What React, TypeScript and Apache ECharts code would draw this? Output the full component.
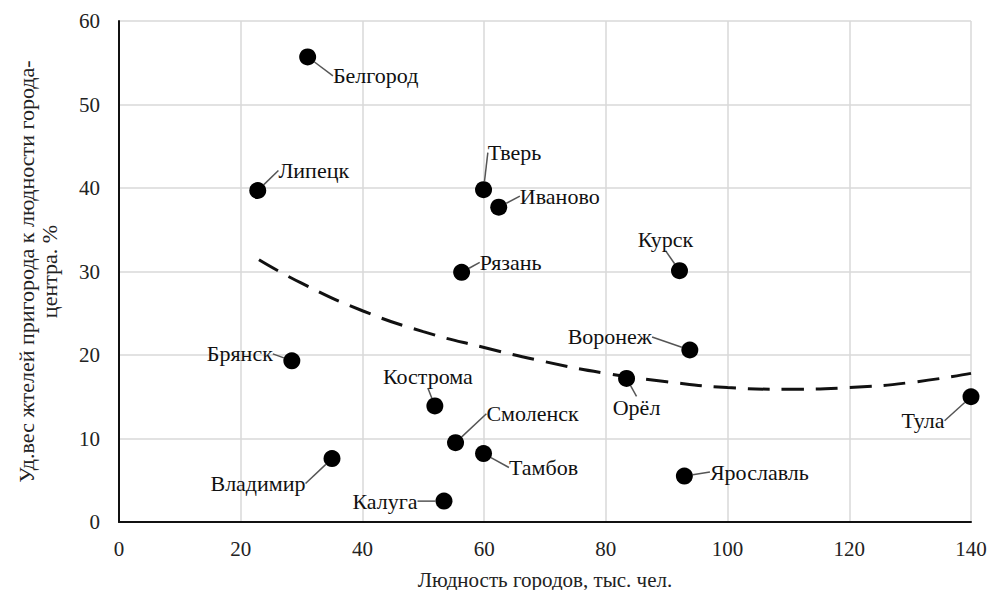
import React, { useEffect, useRef } from "react";
import * as echarts from "echarts";

const cities = ["Белгород", "Липецк", "Тверь", "Иваново", "Рязань", "Курск", "Воронеж", "Брянск", "Орёл", "Кострома", "Тула", "Смоленск", "Тамбов", "Владимир", "Калуга", "Ярославль"];
const population = [31.0, 22.8, 59.9, 62.4, 56.3, 92.1, 93.8, 28.4, 83.4, 51.9, 140, 55.3, 59.9, 35.0, 53.4, 92.9];
const suburbShare = [55.7, 39.7, 39.8, 37.7, 29.9, 30.1, 20.6, 19.3, 17.2, 13.9, 15.0, 9.5, 8.2, 7.6, 2.5, 5.5];

const trendX = [23, 30, 40, 50, 60, 70, 80, 90, 100, 110, 120, 130, 140];
const trendY = [31.4, 28.6, 25.3, 22.8, 20.9, 19.2, 17.8, 16.8, 16.1, 15.9, 16.1, 16.7, 17.8];

const xTicks = [0, 20, 40, 60, 80, 100, 120, 140];
const yTicks = [0, 10, 20, 30, 40, 50, 60];

// label offsets (px) from the point centre
const labelOffsets: [number, number][] = [
  [68, 19], [56, -20], [31, -37], [61, -11], [49, -10], [-14, -31], [-80, -13], [-52, -7],
  [10, 29], [-7, -29], [-48, 24], [77, -29], [60, 14], [-74, 25], [-59, 0], [75, -4],
];

const FONT = "'Liberation Serif', 'Times New Roman', serif";

export default function App() {
  const ref = useRef<HTMLDivElement>(null);
  useEffect(() => {
    document.body.style.margin = "0";
    if (!ref.current) return;
    const chart = echarts.init(ref.current, undefined, { renderer: "svg" });
    const scatterData = cities.map((c, i) => ({ name: c, value: [population[i], suburbShare[i]] }));
    chart.setOption({
      animation: false,
      backgroundColor: "#ffffff",
      textStyle: { fontFamily: FONT },
      grid: { left: 119, right: 19, top: 21, bottom: 68, containLabel: false, outerBoundsMode: "none" },
      xAxis: {
        type: "value",
        min: xTicks[0],
        max: xTicks[xTicks.length - 1],
        interval: 20,
        name: "Людность городов, тыс. чел.",
        nameLocation: "middle",
        nameGap: 47,
        nameTextStyle: { fontFamily: FONT, fontSize: 21, color: "#222" },
        axisLine: { show: true, lineStyle: { color: "#111", width: 2 } },
        axisTick: { show: false },
        axisLabel: { fontFamily: FONT, fontSize: 21, color: "#222", margin: 16 },
        splitLine: { show: true, lineStyle: { color: "#d9d9d9", width: 1.5 } },
      },
      yAxis: {
        type: "value",
        min: yTicks[0],
        max: yTicks[yTicks.length - 1],
        interval: 10,
        name: "Уд.вес жтелей пригорода к людности города-\nцентра. %",
        nameLocation: "middle",
        nameGap: 58,
        nameRotate: 90,
        nameTextStyle: { fontFamily: FONT, fontSize: 22, color: "#222", lineHeight: 23 },
        axisLine: { show: true, lineStyle: { color: "#111", width: 2 } },
        axisTick: { show: false },
        axisLabel: { fontFamily: FONT, fontSize: 21, color: "#222", margin: 19 },
        splitLine: { show: true, lineStyle: { color: "#d9d9d9", width: 1.5 } },
      },
      series: [
        {
          type: "line",
          data: trendX.map((x, i) => [x, trendY[i]]),
          smooth: true,
          symbol: "none",
          silent: true,
          lineStyle: { color: "#111", width: 3, type: [22, 12] },
          z: 2,
        },
        {
          type: "scatter",
          data: scatterData,
          symbolSize: 17,
          itemStyle: { color: "#000", opacity: 1 },
          z: 3,
          label: {
            show: true,
            position: "inside",
            formatter: "{b}",
            fontFamily: FONT,
            fontSize: 22,
            color: "#111",
          },
          labelLine: { show: true, lineStyle: { color: "#555", width: 1.5 } },
          labelLayout: (params: any) => {
            const o = labelOffsets[params.dataIndex] || [0, 0];
            return { dx: o[0], dy: o[1] };
          },
        },
      ],
    });
    return () => chart.dispose();
  }, []);
  return <div ref={ref} style={{ width: 990, height: 590 }} />;
}
